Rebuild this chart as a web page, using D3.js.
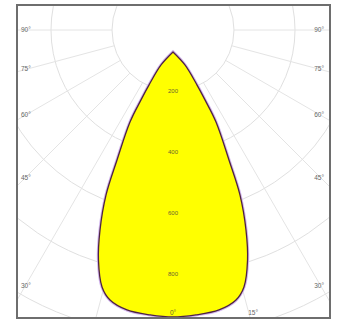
<!DOCTYPE html>
<html>
<head>
<meta charset="utf-8">
<script src="https://cdn.jsdelivr.net/npm/d3@7"></script>
<style>
  html, body { margin: 0; padding: 0; background: #fff; }
  svg { display: block; }
  text { font-family: "Liberation Sans", Arial, sans-serif; }
</style>
</head>
<body>
<script>
// ---- data ----
const ringValues = [200, 400, 600, 800, 1000];
const ringLabels = ["200", "400", "600", "800"];
const gridAngles = [-90, -75, -60, -45, -30, -15, 0, 15, 30, 45, 60, 75, 90];
const sideLabelAngles = [90, 75, 60, 45, 30];
const bottomLabelAngles = [0, 15];
// polar outline of the intensity curve (degrees from nadir, cd/klm)
const curveAngles = [0, -18.9, -23.6, -24.6, -25.05, -23.3, -22.1, -20.05, -17.95, -15.44, -13.13, -9.33, -4.61, 0,
                     4.61, 9.33, 13.13, 15.44, 17.95, 20.05, 22.1, 23.3, 25.05, 24.6, 23.6, 18.9, 0];
const curveValues = [72, 121, 197, 252, 333, 464, 584, 698, 793, 874, 909, 930, 937, 941,
                     937, 930, 909, 874, 793, 698, 584, 464, 333, 252, 197, 121, 72];

// ---- layout ----
const W = 338, H = 325;
const frame = { x0: 17, y0: 5, x1: 330, y1: 318 };
const cx = 173, cy = 30;
const rScale = d3.scaleLinear().domain([0, 1000]).range([0, 305]);
const rad = d => d * Math.PI / 180;

const svg = d3.select("body").append("svg").attr("width", W).attr("height", H);
svg.append("rect").attr("width", W).attr("height", H).attr("fill", "#fff");

svg.append("clipPath").attr("id", "clip")
  .append("rect").attr("x", frame.x0).attr("y", frame.y0)
  .attr("width", frame.x1 - frame.x0).attr("height", frame.y1 - frame.y0);

const g = svg.append("g").attr("clip-path", "url(#clip)");
const c = g.append("g").attr("transform", `translate(${cx},${cy})`);

// grid circles
c.selectAll("circle.ring").data(ringValues).join("circle")
  .attr("class", "ring").attr("r", d => rScale(d))
  .attr("fill", "none").attr("stroke", "#e0e0e0").attr("stroke-width", 1);

// radial lines
const rMax = 500;
c.selectAll("line.spoke").data(gridAngles).join("line")
  .attr("class", "spoke")
  .attr("x1", d => rScale(200) * Math.sin(rad(d)))
  .attr("y1", d => rScale(200) * Math.cos(rad(d)))
  .attr("x2", d => rMax * Math.sin(rad(d)))
  .attr("y2", d => rMax * Math.cos(rad(d)))
  .attr("stroke", "#e4e4e4").attr("stroke-width", 1);

// curve
const pts = curveAngles.map((a, i) => ({ a: a, v: curveValues[i] }));
const line = d3.lineRadial()
  .angle(d => Math.PI - rad(d.a))
  .radius(d => rScale(d.v))
  .curve(d3.curveCatmullRom.alpha(0.5));
const dPath = line(pts) + "Z";
c.append("path").attr("d", dPath)
  .attr("fill", "none").attr("stroke", "#d2b6ee").attr("stroke-width", 3.2);
c.append("path").attr("d", dPath)
  .attr("fill", "#ffff00").attr("stroke", "#4e2344").attr("stroke-width", 1.3)
  .attr("stroke-linejoin", "round");

// frame
svg.append("rect").attr("x", frame.x0).attr("y", frame.y0)
  .attr("width", frame.x1 - frame.x0).attr("height", frame.y1 - frame.y0)
  .attr("fill", "none").attr("stroke", "#6e6e6e").attr("stroke-width", 2);

// ring value labels along the nadir axis
svg.selectAll("text.rv").data(ringLabels).join("text")
  .attr("class", "rv")
  .attr("x", cx).attr("y", (d, i) => cy + rScale(ringValues[i]))
  .attr("text-anchor", "middle").attr("dominant-baseline", "middle")
  .attr("font-size", 6).attr("fill", "#6b6530")
  .text(d => d);

// side angle labels
const inset = 148;
sideLabelAngles.forEach(a => {
  const t = Math.tan(rad(Math.min(a, 89.999)));
  const y = Math.min(cy + inset / t, frame.y1 - 26);
  svg.append("text").attr("x", frame.x0 + 4).attr("y", y)
    .attr("dominant-baseline", "middle").attr("font-size", 6.5).attr("fill", "#666")
    .text(a + "°");
  svg.append("text").attr("x", frame.x1 - 6).attr("y", y)
    .attr("text-anchor", "end")
    .attr("dominant-baseline", "middle").attr("font-size", 6.5).attr("fill", "#666")
    .text(a + "°");
});

// bottom angle labels
bottomLabelAngles.forEach(a => {
  const x = cx + (frame.y1 - cy) * Math.tan(rad(a));
  svg.append("text").attr("x", x + (a ? 3 : 0)).attr("y", frame.y1 - 3)
    .attr("text-anchor", "middle").attr("font-size", 6.5).attr("fill", a ? "#666" : "#6b6530")
    .text(a + "°");
});
</script>
</body>
</html>
